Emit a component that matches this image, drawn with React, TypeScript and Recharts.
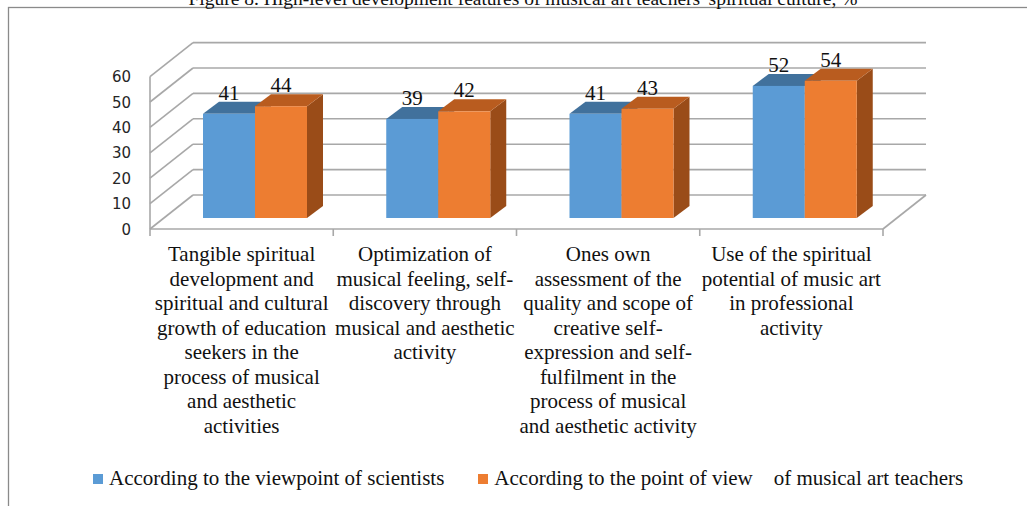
import React from "react";
import { BarChart, Bar, XAxis, YAxis, CartesianGrid, LabelList, Legend } from "recharts";

// Figure 8 — high-level development features of musical art teachers' spiritual culture, %
const categories = [
  "Tangible spiritual\ndevelopment and\nspiritual and cultural\ngrowth of education\nseekers in the\nprocess of musical\nand aesthetic\nactivities",
  "Optimization of\nmusical feeling, self-\ndiscovery through\nmusical and aesthetic\nactivity",
  "Ones own\nassessment of the\nquality and scope of\ncreative self-\nexpression and self-\nfulfilment in the\nprocess of musical\nand aesthetic activity",
  "Use of the spiritual\npotential of music art\nin professional\nactivity",
];
const scientists = [41, 39, 41, 52];
const teachers = [44, 42, 43, 54];
const yTicks = [0, 10, 20, 30, 40, 50, 60];
const seriesNames = [
  "According to the viewpoint of scientists",
  "According to the point of view\u00a0\u00a0\u00a0 of musical art teachers",
];

const data = categories.map((name, i) => ({ name, scientists: scientists[i], teachers: teachers[i] }));

// fake-3D offsets (px) relative to the bar front plane
const FRONT_DX = -13;
const FRONT_DY = 11;
const BACK_DX = 30;
const BACK_DY = -23;
const DEPTH_DX = 16;
const DEPTH_DY = -12;

const SERIF = '"Liberation Serif", "Times New Roman", serif';
const GRID = "#a8a8a8";
const serifText = { fontFamily: SERIF, fontSize: 21 };

const box3d = (front: string, top: string, side: string) => (p: any) => {
  const { x, y, width: w, height: h } = p;
  if (!h) return <g />;
  return (
    <g>
      <polygon
        points={`${x + w},${y} ${x + w + DEPTH_DX},${y + DEPTH_DY} ${x + w + DEPTH_DX},${y + h + DEPTH_DY} ${x + w},${y + h}`}
        fill={side}
      />
      <polygon
        points={`${x},${y} ${x + DEPTH_DX},${y + DEPTH_DY} ${x + w + DEPTH_DX},${y + DEPTH_DY} ${x + w},${y}`}
        fill={top}
      />
      <rect x={x} y={y} width={w} height={h} fill={front} />
    </g>
  );
};

function gridLine(p: any) {
  const { x1, x2, y1 } = p;
  const isFloor = p.height != null && Math.abs(y1 - (p.y + p.height)) < 1;
  const fy = y1 + FRONT_DY;
  const fx = x1 + FRONT_DX;
  return (
    <g key={p.key} stroke={GRID} strokeWidth={1.6} fill="none">
      <line x1={x1 + BACK_DX} x2={x2 + BACK_DX} y1={y1 + BACK_DY} y2={y1 + BACK_DY} />
      <line x1={fx} y1={fy} x2={x1 + BACK_DX} y2={y1 + BACK_DY} />
      {isFloor && (
        <>
          <line x1={fx} x2={x2 + FRONT_DX} y1={fy} y2={fy} />
          <line x1={x2 + FRONT_DX} y1={fy} x2={x2 + BACK_DX} y2={y1 + BACK_DY} />
          <line x1={fx} x2={fx} y1={fy} y2={p.y + FRONT_DY} />
        </>
      )}
    </g>
  );
}

function YTick({ x, y, payload }: any) {
  return (
    <text x={x + FRONT_DX - 19} y={y + FRONT_DY + 5.5} textAnchor="end" style={{ fontFamily: '"DejaVu Sans", sans-serif', fontSize: 15 }} fill="#262626">
      {payload.value}
    </text>
  );
}

function XTick({ x, y, payload, index }: any) {
  const half = payload.offset || 91.6;
  const cx = x + FRONT_DX;
  const base = y + FRONT_DY;
  const lines = String(payload.value).split("\n");
  return (
    <g>
      <line x1={cx - half} x2={cx - half} y1={base} y2={base + 7} stroke={GRID} strokeWidth={1.6} />
      {index === categories.length - 1 && (
        <line x1={cx + half} x2={cx + half} y1={base} y2={base + 7} stroke={GRID} strokeWidth={1.6} />
      )}
      <text x={cx} y={base + 32} textAnchor="middle" style={serifText} fill="#111">
        {lines.map((l, i) => (
          <tspan key={i} x={cx} dy={i === 0 ? 0 : 24.5}>{l}</tspan>
        ))}
      </text>
    </g>
  );
}

function valueLabel(p: any) {
  const { x, y, width, value } = p;
  return (
    <text x={x + width / 2} y={y - 14} textAnchor="middle" style={serifText} fill="#111">
      {value}
    </text>
  );
}

function LegendBox() {
  const colors = ["#5B9BD5", "#ED7D31"];
  return (
    <div style={{ display: "flex", alignItems: "center", paddingLeft: 93, fontFamily: SERIF, fontSize: 21, color: "#111", whiteSpace: "pre" }}>
      {seriesNames.map((n, i) => (
        <span key={n} style={{ display: "flex", alignItems: "center", marginRight: 34 }}>
          <span style={{ width: 10, height: 10, background: colors[i], marginRight: 6, display: "inline-block" }} />
          {n}
        </span>
      ))}
    </div>
  );
}

export default function App() {
  return (
    <div style={{ position: "absolute", left: 0, top: 0, width: 1027, height: 506, overflow: "hidden", background: "#fff" }}>
      <svg width={1027} height={506} style={{ position: "absolute", left: 0, top: 0 }}>
        <rect x={8.5} y={7.5} width={1040} height={520} fill="none" stroke="#8a8a8a" strokeWidth={1.3} />
        <text x={523} y={4.5} textAnchor="middle" style={{ fontFamily: SERIF, fontSize: 19.5 }} fill="#111">
          Figure 8. High-level development features of musical art teachers' spiritual culture, %
        </text>
      </svg>
      <div style={{ position: "absolute", left: 0, top: 0 }}>
        <BarChart
          width={1027}
          height={506}
          data={data}
          margin={{ top: 65.6, right: 131, bottom: 68, left: 103 }}
          barSize={52}
          barGap={0}
        >
          <CartesianGrid horizontal={gridLine} vertical={false} />
          <XAxis dataKey="name" axisLine={false} tickLine={false} tickSize={0} tickMargin={0} height={220} interval={0} tick={<XTick />} />
          <YAxis domain={[0, 60]} ticks={yTicks} axisLine={false} tickLine={false} tickSize={0} tickMargin={0} width={60} tick={<YTick />} interval={0} />
          <Legend
            layout="horizontal"
            verticalAlign="middle"
            align="center"
            content={<LegendBox />}
            wrapperStyle={{ top: 466, left: 0, width: 1027 }}
          />
          <Bar dataKey="scientists" name={seriesNames[0]} fill="#5B9BD5" shape={box3d("#5B9BD5", "#41719C", "#3f6f9a")} isAnimationActive={false}>
            <LabelList dataKey="scientists" content={valueLabel} />
          </Bar>
          <Bar dataKey="teachers" name={seriesNames[1]} fill="#ED7D31" shape={box3d("#ED7D31", "#B95C1F", "#9A4C18")} isAnimationActive={false}>
            <LabelList dataKey="teachers" content={valueLabel} />
          </Bar>
        </BarChart>
      </div>
    </div>
  );
}
